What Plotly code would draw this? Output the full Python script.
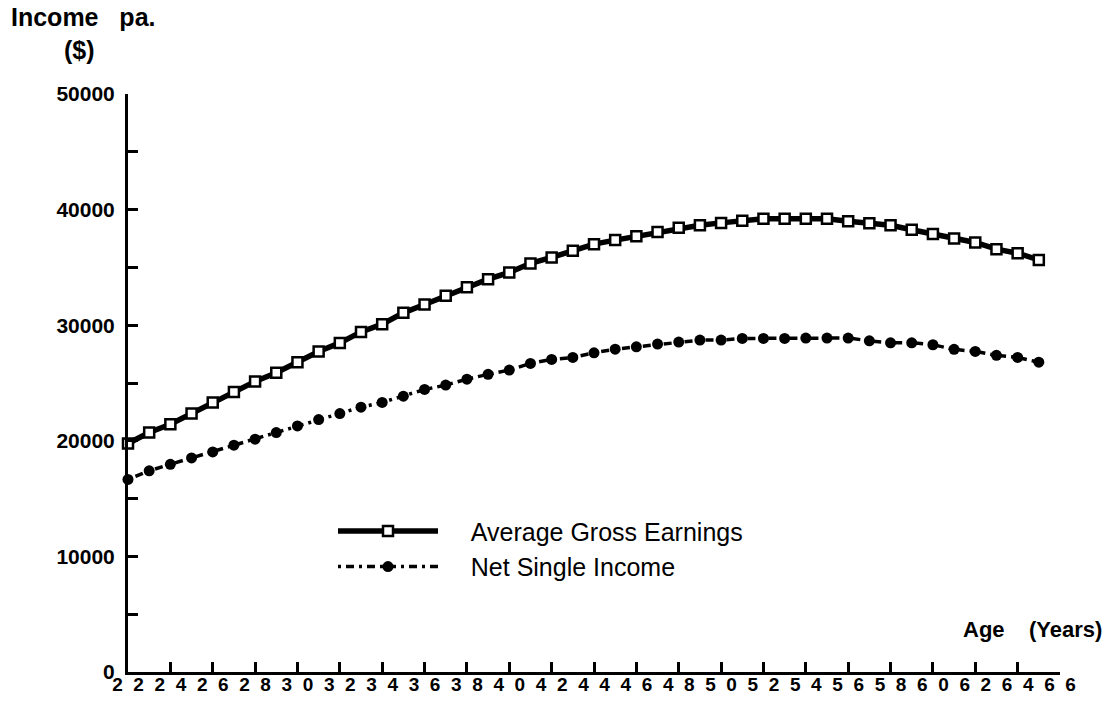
import plotly.graph_objects as go

ages = list(range(22, 66))
gross = [19770, 20720, 21430, 22360, 23320, 24230, 25130, 25880, 26800, 27720,
         28470, 29420, 30090, 31070, 31790, 32540, 33290, 33980, 34560, 35340,
         35860, 36430, 37010, 37360, 37700, 38070, 38420, 38650, 38850, 39030,
         39200, 39200, 39200, 39200, 39000, 38830, 38650, 38260, 37880, 37510,
         37160, 36580, 36230, 35640]
net = [16660, 17400, 17970, 18520, 19040, 19620, 20140, 20710, 21290, 21840,
       22360, 22910, 23320, 23860, 24440, 24820, 25330, 25750, 26120, 26690,
       27040, 27210, 27610, 27930, 28130, 28370, 28540, 28710, 28710, 28860,
       28860, 28860, 28890, 28890, 28890, 28650, 28480, 28480, 28310, 27910,
       27730, 27390, 27210, 26800]

x_ticks = list(range(22, 67, 2))
x_ticktext = ["\u00a0\u00a0".join(list(str(v))) for v in x_ticks]
y_ticks = list(range(0, 50001, 5000))
y_ticktext = [str(v) if v % 10000 == 0 else "" for v in y_ticks]

FONT = "Liberation Sans, Arial, Helvetica, sans-serif"

PW, PH = 932, 578  # plot area size in px

fig = go.Figure()
fig.add_trace(go.Scatter(
    x=ages, y=gross, mode="lines+markers",
    name="\u00a0\u00a0\u00a0\u00a0Average Gross Earnings",
    line=dict(color="black", width=5.5),
    marker=dict(symbol="square", size=10, color="white",
                line=dict(color="black", width=2.5)),
    cliponaxis=False,
))
fig.add_trace(go.Scatter(
    x=ages, y=net, mode="lines+markers",
    name="\u00a0\u00a0\u00a0\u00a0Net Single Income",
    line=dict(color="black", width=3.5, dash="3px,5px,8px,5px"),
    marker=dict(symbol="circle", size=11, color="black"),
    cliponaxis=False,
))

fig.update_layout(
    width=1117, height=704,
    margin=dict(l=128, r=57, t=94, b=32),
    paper_bgcolor="white", plot_bgcolor="white",
    font=dict(family=FONT, color="black"),
    showlegend=True,
    legend=dict(
        x=(333 - 128) / PW, y=(671.7 - 508) / PH,
        xanchor="left", yanchor="top",
        itemwidth=100,
        font=dict(size=25, family=FONT, color="black"),
        bgcolor="rgba(0,0,0,0)", tracegroupgap=0,
        itemsizing="trace",
    ),
    xaxis=dict(
        range=[22, 66], tickvals=x_ticks, ticktext=x_ticktext,
        showgrid=False, zeroline=False, automargin=False,
        showline=True, linecolor="black", linewidth=3,
        ticks="inside", ticklen=10, tickwidth=3, tickcolor="black",
        tickfont=dict(size=19, family=FONT, color="black", weight="bold"),
        ticklabelstandoff=-7,
    ),
    yaxis=dict(
        range=[0, 50000], tickvals=y_ticks, ticktext=y_ticktext,
        showgrid=False, zeroline=False, automargin=False,
        showline=True, linecolor="black", linewidth=3,
        ticks="inside", ticklen=10, tickwidth=3, tickcolor="black",
        tickfont=dict(size=21, family=FONT, color="black", weight="bold"),
        ticklabelstandoff=6,
    ),
    annotations=[
        dict(text="<b>Income\u00a0\u00a0\u00a0pa.</b>", xref="paper", yref="paper",
             x=(10 - 128) / PW, y=(671.7 - 17) / PH, borderpad=0,
             xanchor="left", yanchor="middle", showarrow=False,
             font=dict(size=25, family=FONT, color="black")),
        dict(text="<b>($)</b>", xref="paper", yref="paper",
             x=(79 - 128) / PW, y=(671.7 - 50) / PH,
             xanchor="center", yanchor="middle", showarrow=False,
             font=dict(size=25, family=FONT, color="black")),
        dict(text="<b>Age\u00a0\u00a0\u00a0\u00a0(Years)</b>", xref="paper", yref="paper",
             x=(1104 - 128) / PW, y=(671.7 - 629) / PH,
             xanchor="right", yanchor="middle", showarrow=False,
             font=dict(size=22, family=FONT, color="black")),
    ],
)

fig.write_html("out.html", config={"displayModeBar": False},
               post_script="document.body.style.margin='0px';")
